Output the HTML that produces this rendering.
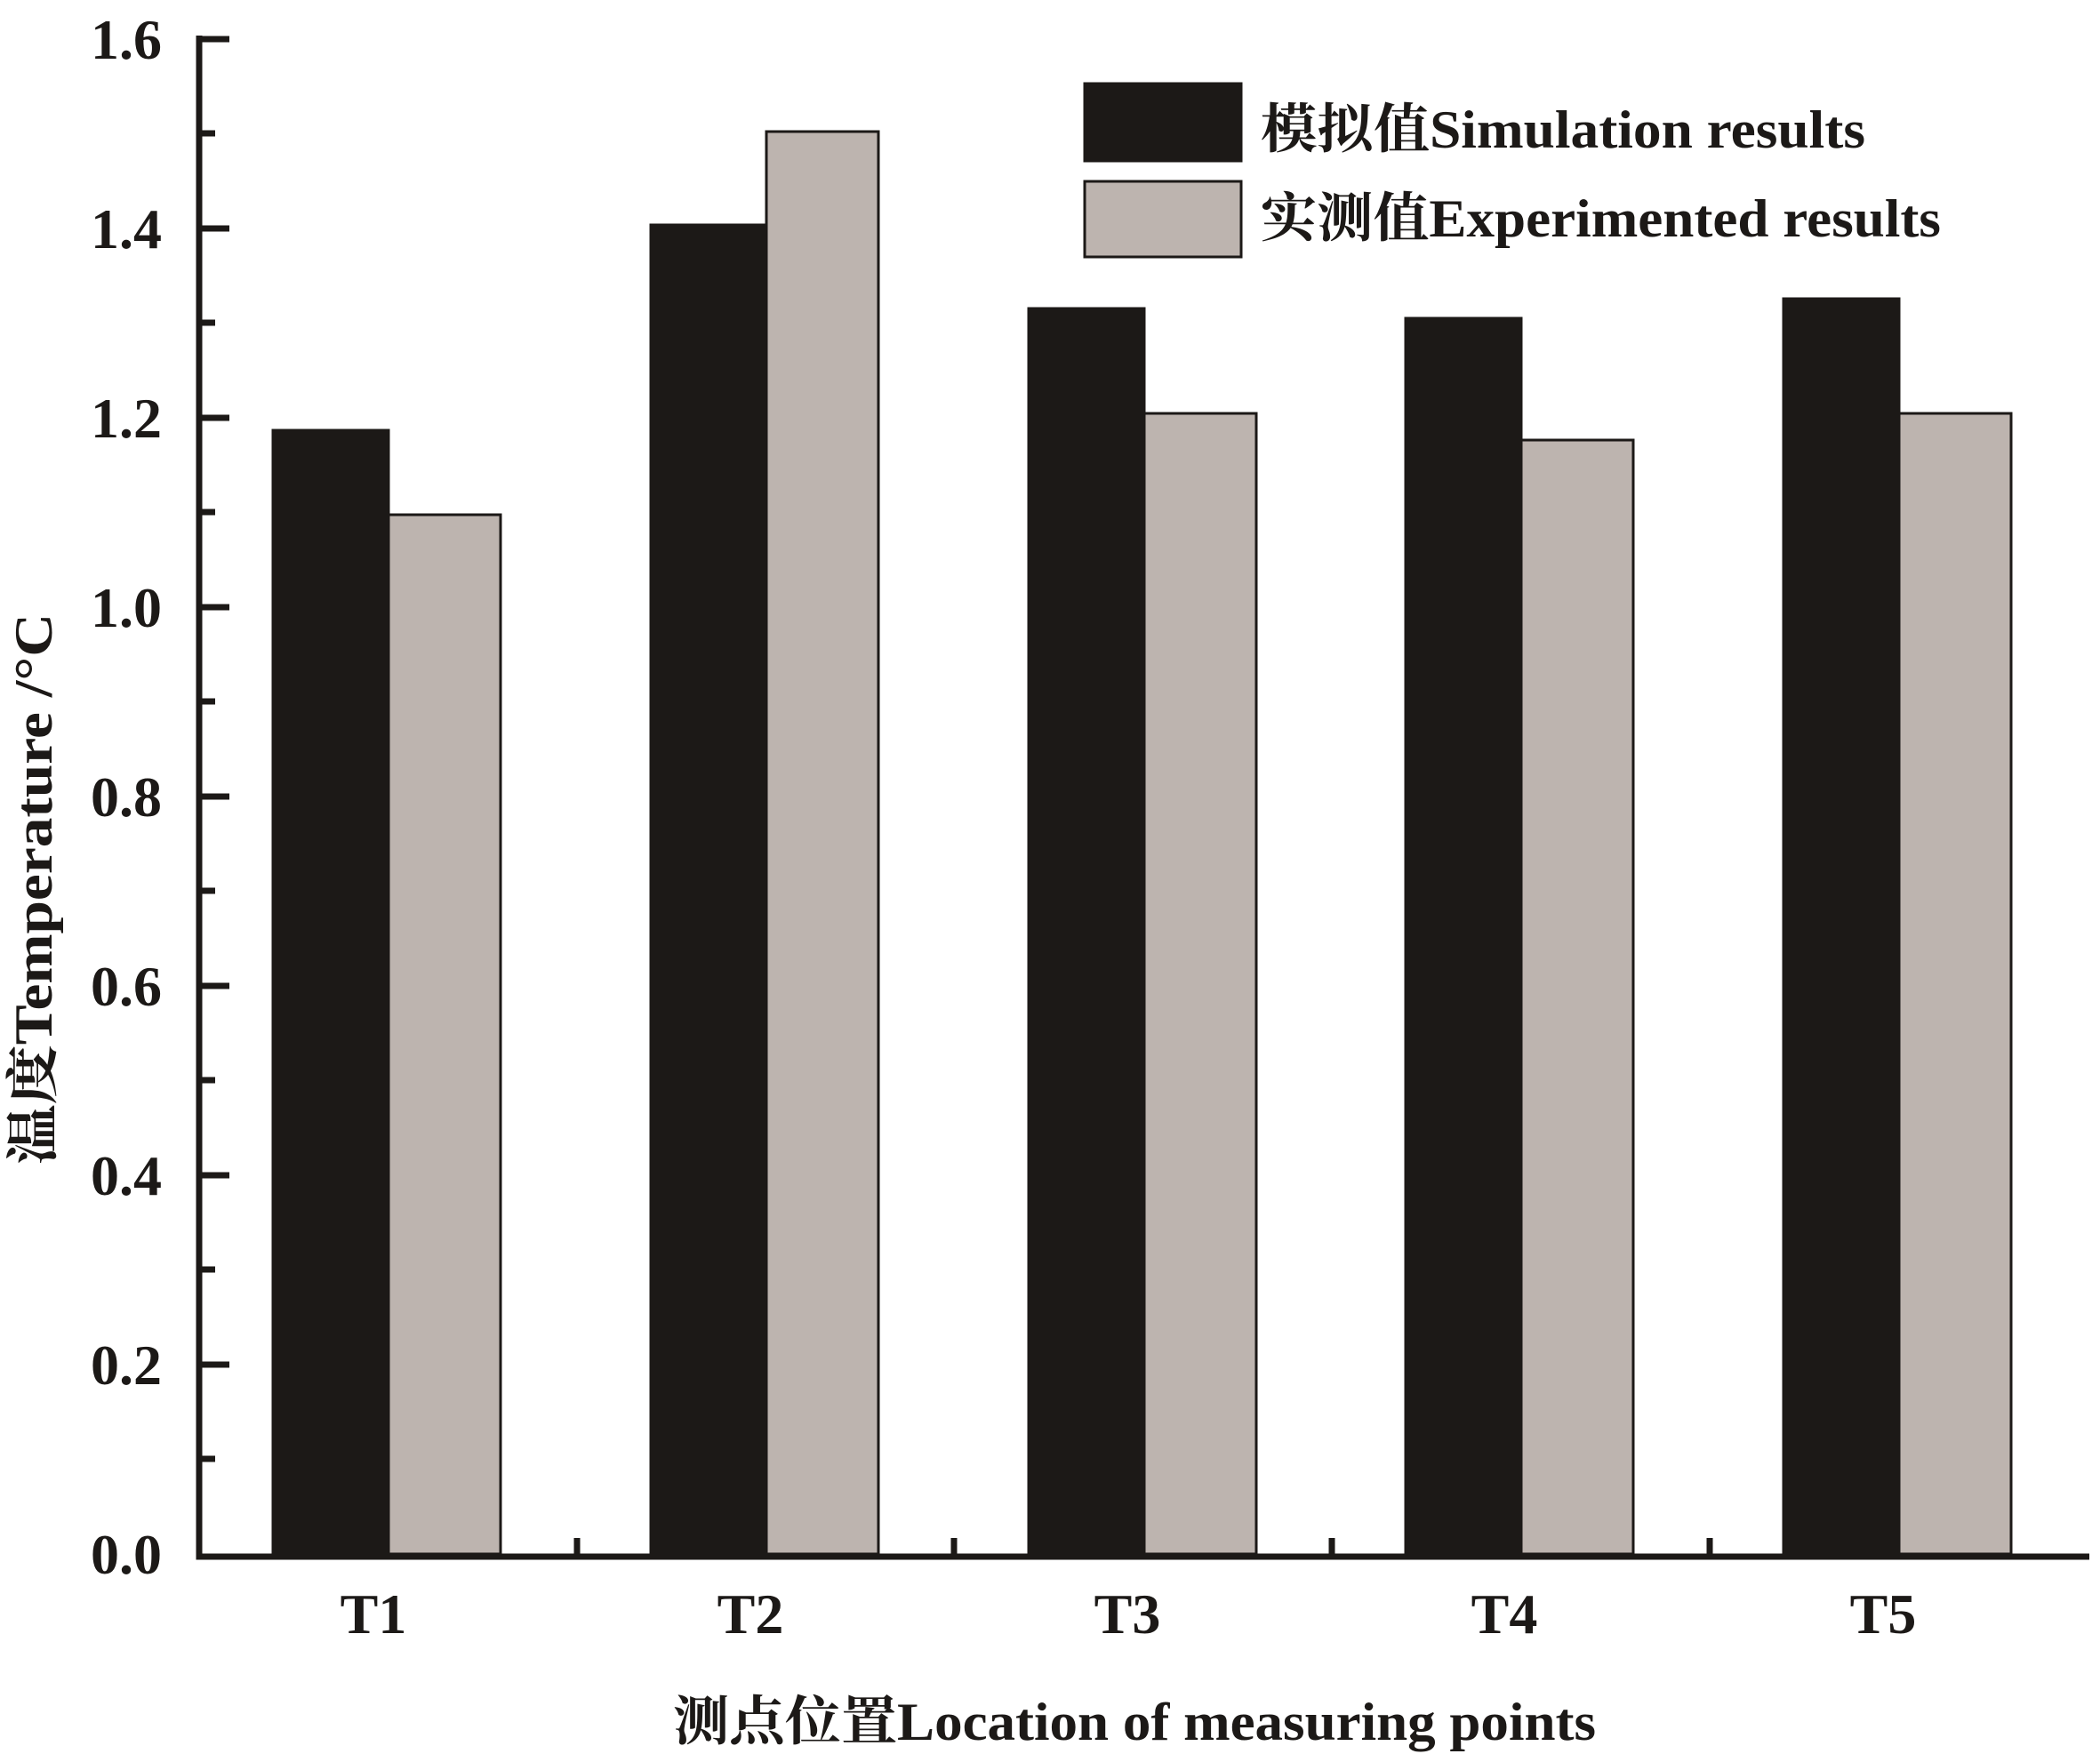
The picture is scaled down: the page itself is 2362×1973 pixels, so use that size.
<!DOCTYPE html>
<html><head><meta charset="utf-8"><style>body{margin:0;background:#fff}svg{display:block}</style></head>
<body>
<svg width="2362" height="1973" viewBox="0 0 2362 1973" xmlns="http://www.w3.org/2000/svg" font-family="'Liberation Serif','Noto Serif CJK SC',serif" font-weight="bold" fill="#1c1917">
<g stroke="#1c1917" stroke-width="3">
<rect x="307" y="484" width="130" height="1264" fill="#1c1917"/>
<rect x="437" y="579" width="126" height="1169" fill="#bdb4af"/>
<rect x="732" y="253" width="130" height="1495" fill="#1c1917"/>
<rect x="862" y="148" width="126" height="1600" fill="#bdb4af"/>
<rect x="1157" y="347" width="130" height="1401" fill="#1c1917"/>
<rect x="1287" y="465" width="126" height="1283" fill="#bdb4af"/>
<rect x="1581" y="358" width="130" height="1390" fill="#1c1917"/>
<rect x="1711" y="495" width="126" height="1253" fill="#bdb4af"/>
<rect x="2006" y="336" width="130" height="1412" fill="#1c1917"/>
<rect x="2136" y="465" width="126" height="1283" fill="#bdb4af"/>
<rect x="1220" y="94" width="176" height="87" fill="#1c1917"/>
<rect x="1220" y="204" width="176" height="85" fill="#bdb4af"/>
</g>
<g stroke="#1c1917" stroke-width="7" fill="none">
<path d="M224 40 V1751 H2350"/>
<path d="M224 44 H258 M224 257 H258 M224 470 H258 M224 683 H258 M224 896 H258 M224 1109 H258 M224 1322 H258 M224 1535 H258"/>
<path d="M224 150 H242 M224 363 H242 M224 576 H242 M224 789 H242 M224 1002 H242 M224 1215 H242 M224 1428 H242 M224 1641 H242"/>
<path d="M649 1748 V1730 M1073 1748 V1730 M1498 1748 V1730 M1923 1748 V1730"/>
</g>
<g font-size="64" text-anchor="end">
<text x="182" y="66">1.6</text><text x="182" y="279">1.4</text><text x="182" y="492">1.2</text><text x="182" y="705">1.0</text>
<text x="182" y="918">0.8</text><text x="182" y="1131">0.6</text><text x="182" y="1344">0.4</text><text x="182" y="1557">0.2</text><text x="182" y="1770">0.0</text>
</g>
<g font-size="64" text-anchor="middle">
<text x="420" y="1837">T1</text><text x="844" y="1837">T2</text><text x="1268" y="1837">T3</text><text x="1692" y="1837">T4</text><text x="2118" y="1837">T5</text>
</g>
<text x="1418" y="166" font-size="60" textLength="680" lengthAdjust="spacingAndGlyphs">模拟值Simulation results</text>
<text x="1418" y="266" font-size="60" textLength="765" lengthAdjust="spacingAndGlyphs">实测值Experimented results</text>
<text x="757" y="1957" font-size="60" textLength="1038" lengthAdjust="spacingAndGlyphs">测点位置Location of measuring points</text>
<text transform="translate(58,1000) rotate(-90)" text-anchor="middle" font-size="60" textLength="620" lengthAdjust="spacingAndGlyphs">温度Temperature /°C</text>
</svg>
</body></html>
